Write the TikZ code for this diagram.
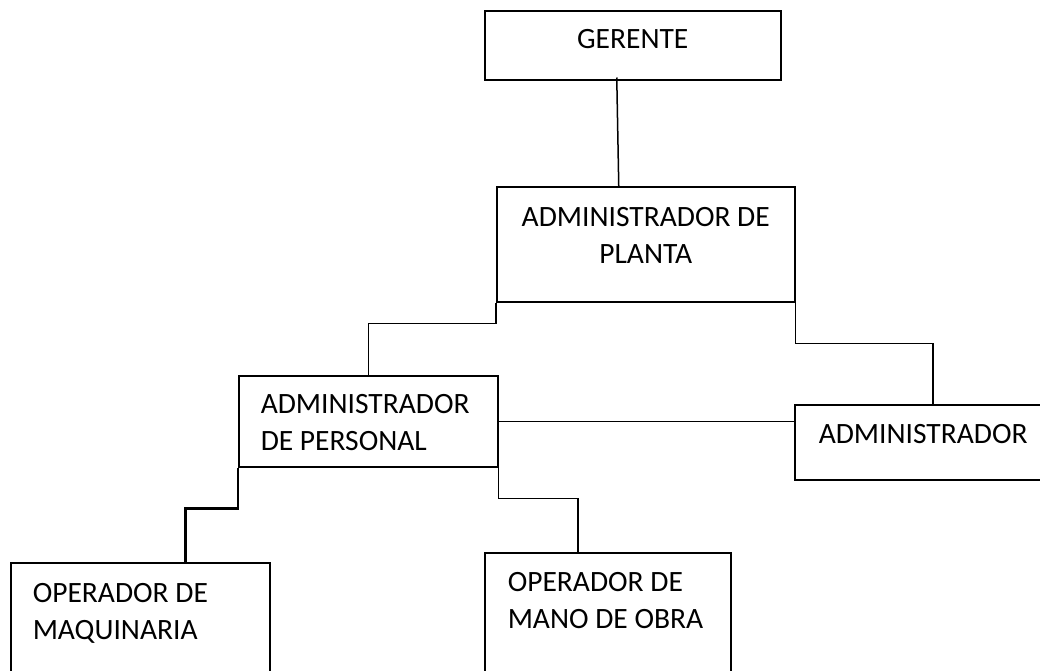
\documentclass[tikz,border=0pt]{standalone}
\usepackage{fontspec}
\setmainfont{Carlito}

\tikzset{
  orgbox/.style={draw, line width=1.5pt, anchor=north west, inner ysep=0pt,
    font=\fontsize{29.5}{37}\selectfont},
  orgline/.style={line width=1.5pt}
}

\begin{document}
\begin{tikzpicture}[x=1pt,y=-1pt]
            \clip (0,0) rectangle (1040,670);

            \node[orgbox,inner xsep=10pt,text width=276pt,align=flush center,text height=38pt,text depth=31pt] (gerente) at (484,10) {GERENTE};
            \node[orgbox,inner xsep=10pt,text width=278pt,align=flush center,text height=40pt,text depth=75pt] (planta) at (496,186) {ADMINISTRADOR DE\\PLANTA};
            \node[orgbox,inner xsep=22pt,text width=215pt,align=flush left,text height=38pt,text depth=53pt] (personal) at (238,375) {ADMINISTRADOR\\DE PERSONAL};
            \node[orgbox,inner xsep=24pt,text width=220pt,align=flush left,text height=39pt,text depth=36pt] (admin) at (794,404) {ADMINISTRADOR};
            \node[orgbox,inner xsep=22pt,text width=215pt,align=flush left,text height=40pt,text depth=160pt] (maq) at (10,562) {OPERADOR DE\\MAQUINARIA};
            \node[orgbox,inner xsep=23pt,text width=200pt,align=flush left,text height=39pt,text depth=170pt] (obra) at (484,552) {OPERADOR DE\\MANO~DE~OBRA};

            \draw[orgline] ([xshift=-16pt,yshift=3pt]gerente.south) -- ([xshift=-27pt]planta.north);
            \draw[orgline] (planta.south west) -- ++(0,21) -| (personal.north);
            \draw[orgline] (planta.south east) -- ++(0,41) -| ([xshift=4pt]admin.north);
            \draw[orgline] (personal.east) -- (personal.east -| admin.west);
            \draw[line width=2.5pt] (personal.south west) -- ++(0,41) -| ([xshift=45pt]maq.north);
            \draw[orgline] (personal.south east) -- ++(0,31) -| ([xshift=-30pt]obra.north);
\end{tikzpicture}
\end{document}
